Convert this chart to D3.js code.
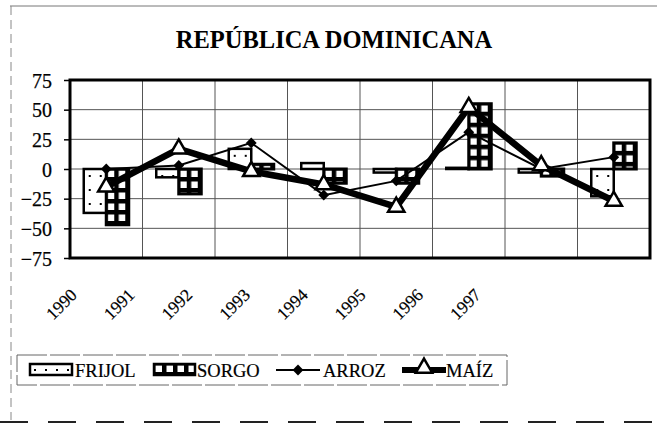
<!DOCTYPE html>
<html>
<head>
<meta charset="utf-8">
<script src="https://cdn.jsdelivr.net/npm/d3@7"></script>
<style>
  body { margin: 0; background: #fff; }
  svg { display: block; }
</style>
</head>
<body>
<div id="chart"></div>
<script>
// data
const years = ['1990', '1991', '1992', '1993', '1994', '1995', '1996', '1997'];
const frijol = [-37, -7, 17, 5, -3, 1, -3, -23];
const sorgo = [-47, -21, 4, -12, -12, 55, -6, 22];
const arroz = [0, 3, 22, -22, -10, 31, 0, 10];
const maiz = [-15, 17, -2, -13, -32, 52, 3, -27];
const yTicks = [75, 50, 25, 0, -25, -50, -75];
const title = 'REPÚBLICA DOMINICANA';
const legendNames = ['FRIJOL', 'SORGO', 'ARROZ', 'MAÍZ'];

const width = 657, height = 426;
const plot = { left: 70, right: 650, top: 80, bottom: 258 };
const serif = "'Liberation Serif', 'Times New Roman', serif";

const svg = d3.select('#chart').append('svg')
    .attr('width', width)
    .attr('height', height);

// scales
const x = d3.scaleBand().domain(years).range([plot.left, plot.right]);
const inner = d3.scaleBand().domain(['frijol', 'sorgo']).range([0, 45]);
const y = d3.scaleLinear().domain([-75, 75]).range([plot.bottom, plot.top]);
// in the picture the year labels sit on a narrower spread than the columns
const xLabel = d3.scalePoint().domain(years).range([78, 482]);
const cx = d => x(d) + x.bandwidth() / 2;

// outer frame (scanned page edge)
svg.append('line').attr('x1', 10).attr('x2', 657).attr('y1', 6).attr('y2', 6)
    .attr('stroke', '#777').attr('stroke-width', 1);
svg.append('line').attr('x1', 11).attr('x2', 11).attr('y1', 6).attr('y2', 420)
    .attr('stroke', '#888').attr('stroke-width', 1).attr('stroke-dasharray', '9,5');
svg.append('line').attr('x1', 0).attr('x2', 657).attr('y1', 422).attr('y2', 422)
    .attr('stroke', '#222').attr('stroke-width', 2).attr('stroke-dasharray', '28,20');

// title
svg.append('text')
    .attr('x', 334).attr('y', 48)
    .attr('text-anchor', 'middle')
    .attr('font-family', serif)
    .attr('font-size', 24.5)
    .attr('font-weight', 'bold')
    .text(title);

// patterns
const defs = svg.append('defs');
function frijolPattern(id, px, py) {
    const p = defs.append('pattern').attr('id', id)
        .attr('patternUnits', 'userSpaceOnUse')
        .attr('x', px).attr('y', py).attr('width', 11).attr('height', 14);
    p.append('rect').attr('width', 11).attr('height', 14).attr('fill', '#fff');
    p.append('rect').attr('x', 5).attr('y', 6).attr('width', 2).attr('height', 2).attr('fill', '#000');
}
function sorgoPattern(id, px, py) {
    const p = defs.append('pattern').attr('id', id)
        .attr('patternUnits', 'userSpaceOnUse')
        .attr('x', px).attr('y', py).attr('width', 11).attr('height', 11);
    p.append('rect').attr('width', 11).attr('height', 11).attr('fill', '#000');
    p.append('rect').attr('x', 2.5).attr('y', 2.5).attr('width', 6.5).attr('height', 6.5).attr('fill', '#fff');
}

// grid
const grid = svg.append('g');
grid.selectAll('.hgrid').data(yTicks).join('line')
    .attr('x1', plot.left).attr('x2', plot.right)
    .attr('y1', d => y(d)).attr('y2', d => y(d))
    .attr('stroke', '#555').attr('stroke-width', 1);
grid.selectAll('.vgrid').data(years.slice(1)).join('line')
    .attr('x1', d => x(d)).attr('x2', d => x(d))
    .attr('y1', plot.top).attr('y2', plot.bottom)
    .attr('stroke', '#555').attr('stroke-width', 1);

// bars
const bars = svg.append('g');
years.forEach((yr, i) => {
    const x0 = cx(yr) - 22.5;
    const fx = x0 + inner('frijol');
    const fTop = Math.min(y(frijol[i]), y(0));
    frijolPattern('fp' + i, fx, fTop);
    bars.append('rect')
        .attr('x', fx).attr('y', fTop)
        .attr('width', inner.bandwidth())
        .attr('height', Math.abs(y(frijol[i]) - y(0)))
        .attr('fill', 'url(#fp' + i + ')')
        .attr('stroke', '#000').attr('stroke-width', 2.5);
});
years.forEach((yr, i) => {
    const x0 = cx(yr) - 22.5;
    const sx = x0 + inner('sorgo');
    const sTop = Math.min(y(sorgo[i]), y(0));
    sorgoPattern('sp' + i, sx - 1, sTop - 1);
    bars.append('rect')
        .attr('x', sx).attr('y', sTop)
        .attr('width', inner.bandwidth())
        .attr('height', Math.abs(y(sorgo[i]) - y(0)))
        .attr('fill', 'url(#sp' + i + ')')
        .attr('stroke', '#000').attr('stroke-width', 3);
});

// lines
const line = d3.line().x((d, i) => cx(years[i])).y(d => y(d));
svg.append('path').datum(arroz)
    .attr('d', line).attr('fill', 'none')
    .attr('stroke', '#000').attr('stroke-width', 2);
const diamond = d3.symbol().type(d3.symbolDiamond2).size(75);
svg.selectAll('.arroz').data(arroz).join('path')
    .attr('transform', (d, i) => `translate(${cx(years[i])},${y(d)})`)
    .attr('d', diamond).attr('fill', '#000');

svg.append('path').datum(maiz)
    .attr('d', line).attr('fill', 'none')
    .attr('stroke', '#000').attr('stroke-width', 6.5)
    .attr('stroke-linejoin', 'round');
const tri = d3.symbol().type(d3.symbolTriangle).size(115);
svg.selectAll('.maiz').data(maiz).join('path')
    .attr('transform', (d, i) => `translate(${cx(years[i])},${y(d)})`)
    .attr('d', tri).attr('fill', '#fff')
    .attr('stroke', '#000').attr('stroke-width', 2.5);

// plot border
svg.append('rect')
    .attr('x', plot.left).attr('y', plot.top)
    .attr('width', plot.right - plot.left).attr('height', plot.bottom - plot.top)
    .attr('fill', 'none').attr('stroke', '#000').attr('stroke-width', 3);

// y axis
const yAxis = svg.append('g')
    .attr('transform', `translate(${plot.left},0)`)
    .call(d3.axisLeft(y).tickValues(yTicks).tickSize(6).tickSizeOuter(0));
yAxis.attr('font-family', serif).attr('font-size', 20);
yAxis.select('.domain').remove();
yAxis.selectAll('line').attr('stroke', '#000').attr('stroke-width', 1.5);
yAxis.selectAll('text')
    .attr('x', -18).attr('dy', '0.35em')
    .attr('font-family', serif)
    .attr('font-size', 20)
    .attr('fill', '#000')
    .attr('stroke', '#000').attr('stroke-width', 0.25);

// x labels
svg.selectAll('.xlab').data(years).join('text')
    .attr('transform', d => `translate(${xLabel(d)},296) rotate(-45)`)
    .attr('text-anchor', 'end')
    .attr('font-family', serif)
    .attr('font-size', 17.5)
    .attr('stroke', '#000').attr('stroke-width', 0.2)
    .text(d => d);

// legend
const lg = svg.append('g');
lg.append('rect').attr('x', 17).attr('y', 355).attr('width', 490).attr('height', 30)
    .attr('fill', '#fff').attr('stroke', '#666').attr('stroke-width', 1)
    .attr('stroke-dasharray', '30,3');
frijolPattern('fpl', 29, 363);
lg.append('rect').attr('x', 30).attr('y', 364).attr('width', 42).attr('height', 11)
    .attr('fill', 'url(#fpl)').attr('stroke', '#000').attr('stroke-width', 2.5);
sorgoPattern('spl', 153, 363);
lg.append('rect').attr('x', 154).attr('y', 364).attr('width', 41).attr('height', 11)
    .attr('fill', 'url(#spl)').attr('stroke', '#000').attr('stroke-width', 2.5);
lg.append('line').attr('x1', 276).attr('x2', 320).attr('y1', 370).attr('y2', 370)
    .attr('stroke', '#000').attr('stroke-width', 2);
lg.append('path').attr('transform', 'translate(298,370)').attr('d', diamond).attr('fill', '#000');
lg.append('line').attr('x1', 402).attr('x2', 446).attr('y1', 370).attr('y2', 370)
    .attr('stroke', '#000').attr('stroke-width', 6);
lg.append('path').attr('transform', 'translate(424,368)').attr('d', tri)
    .attr('fill', '#fff').attr('stroke', '#000').attr('stroke-width', 2.5);
const legendX = [75, 197, 323, 446];
lg.selectAll('.lt').data(legendNames).join('text')
    .attr('x', (d, i) => legendX[i]).attr('y', 377)
    .attr('font-family', serif)
    .attr('font-size', 18.5)
    .attr('stroke', '#000').attr('stroke-width', 0.2)
    .text(d => d);
</script>
</body>
</html>
